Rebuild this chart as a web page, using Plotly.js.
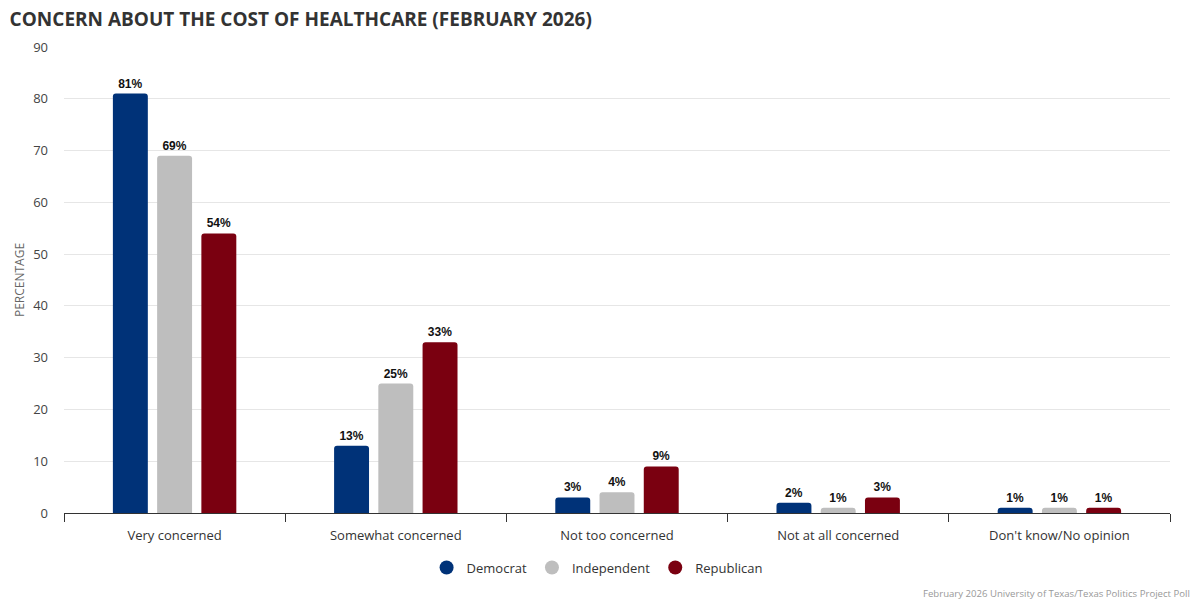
<!DOCTYPE html>
<html>
<head>
<meta charset="utf-8">
<script src="https://cdn.plot.ly/plotly-3.0.1.min.js"></script>
<style>html,body{margin:0;padding:0;background:#fff;}#chart{width:1200px;height:600px;}</style>
</head>
<body>
<div id="chart"></div>
<script>
const categories = ["Very concerned", "Somewhat concerned", "Not too concerned", "Not at all concerned", "Don't know/No opinion"];
const democrat = [81, 13, 3, 2, 1];
const independent = [69, 25, 4, 1, 1];
const republican = [54, 33, 9, 3, 1];
const seriesNames = ["Democrat", "Independent", "Republican"];
const seriesColors = ["#003278", "#bebebe", "#7a0010"];
const yTicks = [0, 10, 20, 30, 40, 50, 60, 70, 80, 90];

const series = [democrat, independent, republican];
const traces = series.map((vals, i) => ({
  type: "bar",
  name: seriesNames[i],
  x: categories,
  y: vals,
  marker: {color: seriesColors[i], cornerradius: 3},
  text: vals.map(v => v + "%"),
  textposition: "outside",
  textfont: {family: "Liberation Sans, Arial, sans-serif", size: 12, color: "#111", weight: "bold"},
  cliponaxis: false,
  showlegend: false,
  hoverinfo: "skip"
}));
seriesNames.forEach((n, i) => {
  traces.push({
    type: "scatter", mode: "markers", name: n,
    x: [categories[0]], y: [null],
    marker: {color: seriesColors[i], size: 14, symbol: "circle"},
    showlegend: true, hoverinfo: "skip"
  });
});

const layout = {
  width: 1200, height: 600,
  margin: {l: 64, r: 30, t: 47, b: 87},
  paper_bgcolor: "#fff", plot_bgcolor: "#fff",
  font: {family: "Open Sans, sans-serif", color: "#333"},
  title: {text: "CONCERN ABOUT THE COST OF HEALTHCARE (FEBRUARY 2026)", x: 0.008, xanchor: "left", y: 0.968, yanchor: "middle",
          font: {family: "Open Sans, sans-serif", size: 19, color: "#333", weight: "bold"}},
  barmode: "group",
  bargap: 0.4,
  bargroupgap: 0.21,
  xaxis: {
    showline: true, linecolor: "#333", linewidth: 1,
    ticks: "outside", tickson: "boundaries", ticklen: 8, tickcolor: "#333",
    tickfont: {size: 13, color: "#333"},
    ticklabelstandoff: 10,
    showgrid: false, fixedrange: true
  },
  yaxis: {
    range: [0, 90], tickvals: yTicks, showline: false, zeroline: false,
    gridcolor: "#e6e6e6", gridwidth: 1,
    tickfont: {size: 13, color: "#444"},
    ticklabelstandoff: 15,
    title: {text: "PERCENTAGE", font: {size: 12, color: "#666"}, standoff: 5},
    fixedrange: true
  },
  legend: {orientation: "h", x: 0.482, xanchor: "center", y: -0.085, yanchor: "top",
           font: {size: 13, color: "#333"}, itemwidth: 30},
  annotations: [{
    text: "February 2026 University of Texas/Texas Politics Project Poll",
    xref: "paper", yref: "paper", x: 1.02, y: -0.155, xanchor: "right", yanchor: "top",
    showarrow: false, font: {size: 9.6, color: "#999"}
  }]
};

Plotly.newPlot("chart", traces, layout, {displayModeBar: false, staticPlot: true});
</script>
</body>
</html>
